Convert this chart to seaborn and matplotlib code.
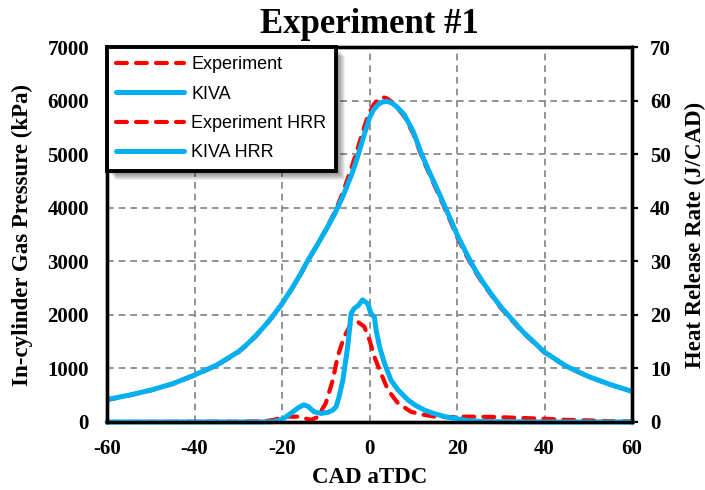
import matplotlib
matplotlib.use("Agg")
import matplotlib.pyplot as plt
from matplotlib.patches import Rectangle
from matplotlib.transforms import IdentityTransform
import seaborn as sns
import pandas as pd

# In-cylinder pressure (kPa) vs crank angle (CAD aTDC)
exp_p_cad = [-60, -55, -50, -45, -40, -35, -30, -28, -26, -24, -22, -20, -18, -16, -14, -12, -10, -8, -6, -4,
             -3, -2, -1, 0, 1, 2, 3, 4, 5, 6, 7, 8, 10, 12, 14, 16, 18, 20, 22, 24, 26, 28, 30, 35, 40, 45,
             50, 55, 60]
exp_p = [410, 495, 590, 710, 870, 1050, 1300, 1440, 1600, 1780, 1980, 2200, 2450, 2720, 3020, 3300, 3590, 3910,
         4300, 4780, 5030, 5300, 5560, 5780, 5930, 6030, 6065, 6040, 5980, 5900, 5800, 5700, 5380, 4940, 4570,
         4210, 3840, 3460, 3130, 2830, 2575, 2350, 2130, 1675, 1295, 1035, 848, 695, 570]

kiva_p_cad = [-60, -55, -50, -45, -40, -35, -30, -28, -26, -24, -22, -20, -18, -16, -14, -12, -10, -8, -6, -4,
              -3, -2, -1, 0, 1, 2, 3, 4, 5, 6, 7, 8, 10, 12, 14, 16, 18, 20, 22, 24, 26, 28, 30, 35, 40, 45,
              50, 55, 60]
kiva_p = [420, 500, 595, 715, 877, 1060, 1310, 1450, 1610, 1790, 1990, 2210, 2460, 2730, 3030, 3300, 3580, 3880,
          4230, 4640, 4880, 5150, 5420, 5680, 5840, 5930, 5975, 5985, 5960, 5900, 5820, 5730, 5420, 4980, 4610,
          4250, 3880, 3500, 3170, 2860, 2600, 2370, 2150, 1690, 1305, 1040, 850, 700, 570]

# Heat release rate (J/CAD)
exp_hrr_cad = [-60, -40, -30, -24, -21.8, -19.5, -16.5, -13.4, -11.9, -10, -8.4, -7.3, -5.8, -4.2, -2.7, -1.2,
               0, 1.1, 2.6, 4.2, 6.5, 9.5, 12, 14.9, 18, 22.5, 27.9, 33, 40, 45, 50, 55, 60]
exp_hrr = [0, 0.05, 0.05, 0.15, 0.4, 1.0, 1.0, 0.4, 0.9, 3.5, 7.8, 12.2, 15.9, 18.4, 18.7, 17.8, 15.3, 12.2,
           9.1, 6.0, 3.5, 1.9, 1.4, 1.0, 0.9, 1.0, 0.95, 0.8, 0.6, 0.4, 0.3, 0.15, 0.1]

kiva_hrr_cad = [-60, -40, -25, -22, -20.3, -19, -17.2, -16, -15, -14, -12.7, -11.1, -9.5, -8.4, -7.6, -7.0,
                -6.1, -5.0, -4.2, -3.5, -2.5, -1.6, -0.4, 0.3, 1.1, 1.5, 2.3, 3.4, 4.9, 6.5, 8.8, 10.5, 12.6,
                15, 17.2, 20, 22.5, 26, 30, 40, 60]
kiva_hrr = [0, 0, 0, 0.05, 0.4, 1.0, 2.1, 2.8, 3.2, 2.9, 1.9, 1.6, 1.8, 2.2, 2.9, 4.6, 7.8, 14.0, 20.3, 21.2,
            21.8, 22.8, 22.1, 20.3, 19.6, 17.2, 14.0, 11.0, 7.8, 6.0, 4.1, 3.1, 2.2, 1.5, 1.0, 0.6, 0.25, 0.1,
            0.05, 0, 0]

x_ticks = [-60, -40, -20, 0, 20, 40, 60]
p_ticks = [0, 1000, 2000, 3000, 4000, 5000, 6000, 7000]
hrr_ticks = [0, 10, 20, 30, 40, 50, 60, 70]

RED = "#FF0000"
BLUE = "#00B0F0"

sns.set_style("white")
plt.rcParams["font.family"] = ["Liberation Serif", "DejaVu Serif"]
plt.rcParams.update({"text.color": "black", "axes.labelcolor": "black",
                     "xtick.color": "black", "ytick.color": "black"})

fig = plt.figure(figsize=(7.05, 4.9), dpi=100)
ax = fig.add_axes([0.1518, 0.1388, 0.7447, 0.7652])
ax2 = ax.twinx()

dash = (0, (2.6, 2.2))

df_ep = pd.DataFrame({"cad": exp_p_cad, "p": exp_p})
df_kp = pd.DataFrame({"cad": kiva_p_cad, "p": kiva_p})
df_eh = pd.DataFrame({"cad": exp_hrr_cad, "h": exp_hrr})
df_kh = pd.DataFrame({"cad": kiva_hrr_cad, "h": kiva_hrr})

sns.lineplot(data=df_ep, x="cad", y="p", ax=ax, color=RED, lw=3.0, linestyle=dash,
             label="Experiment", legend=False)
sns.lineplot(data=df_kp, x="cad", y="p", ax=ax, color=BLUE, lw=3.6, label="KIVA", legend=False)
sns.lineplot(data=df_eh, x="cad", y="h", ax=ax2, color=RED, lw=3.0, linestyle=dash,
             label="Experiment HRR", legend=False, clip_on=False)
sns.lineplot(data=df_kh, x="cad", y="h", ax=ax2, color=BLUE, lw=3.6, label="KIVA HRR",
             legend=False, clip_on=False)

for line in ax.lines + ax2.lines:
    line.set_dash_capstyle("round")
    line.set_solid_capstyle("round")
    line.set_solid_joinstyle("round")
    line.set_dash_joinstyle("round")

ax.set_xlim(-60, 60)
ax.set_ylim(0, 7000)
ax2.set_ylim(0, 70)
ax.set_xticks(x_ticks)
ax.set_yticks(p_ticks)
ax2.set_yticks(hrr_ticks)

ax.grid(True, color="#808080", linestyle=(0, (4, 3)), linewidth=1.2)
ax2.grid(False)

tick_font = dict(fontsize=15, fontweight="bold")
ax.set_xticklabels([str(v) for v in x_ticks], **tick_font)
ax.set_yticklabels([str(v) for v in p_ticks], **tick_font)
ax2.set_yticklabels([str(v) for v in hrr_ticks], **tick_font)

ax.tick_params(axis="x", direction="in", length=0, pad=12)
ax.tick_params(axis="y", direction="in", length=0, pad=13)
ax2.tick_params(axis="y", direction="out", length=4, width=1.6, pad=9, color="black")

lab_font = dict(fontsize=16.5, fontweight="bold")
ax.set_xlabel("CAD aTDC", labelpad=6, **lab_font)
ax.set_ylabel("In-cylinder Gas Pressure (kPa)", labelpad=10, **lab_font)
ax2.set_ylabel("Heat Release Rate (J/CAD)", labelpad=10, **lab_font)
ax.set_title("Experiment #1", fontsize=25, fontweight="bold", pad=10, color="black")

for a in (ax, ax2):
    for s in a.spines.values():
        s.set_color("black")
        s.set_linewidth(2.4)
        s.set_visible(True)

handles = ax.lines[:2] + ax2.lines[:2]
labels = ["Experiment", "KIVA", "Experiment HRR", "KIVA HRR"]
leg = ax2.legend(handles, labels, loc="upper left", bbox_to_anchor=(0.0, 1.0), borderaxespad=0,
                 frameon=True, fancybox=False, edgecolor="black", framealpha=1.0,
                 prop={"family": "Liberation Sans", "size": 13}, handlelength=3.75,
                 handletextpad=0.4, labelspacing=0.68, borderpad=0.52)
leg.get_frame().set_linewidth(2.8)
leg.set_zorder(10)

# soft drop shadow behind the legend box
fig.canvas.draw()
bb = leg.get_frame().get_window_extent(fig.canvas.get_renderer())
for k in range(1, 10):
    ax2.add_patch(Rectangle((bb.x0 + k, bb.y0 - k), bb.width, bb.height, transform=IdentityTransform(),
                            facecolor="black", edgecolor="none", alpha=0.065, zorder=9, clip_on=False))

fig.savefig("out.png", dpi=100)
